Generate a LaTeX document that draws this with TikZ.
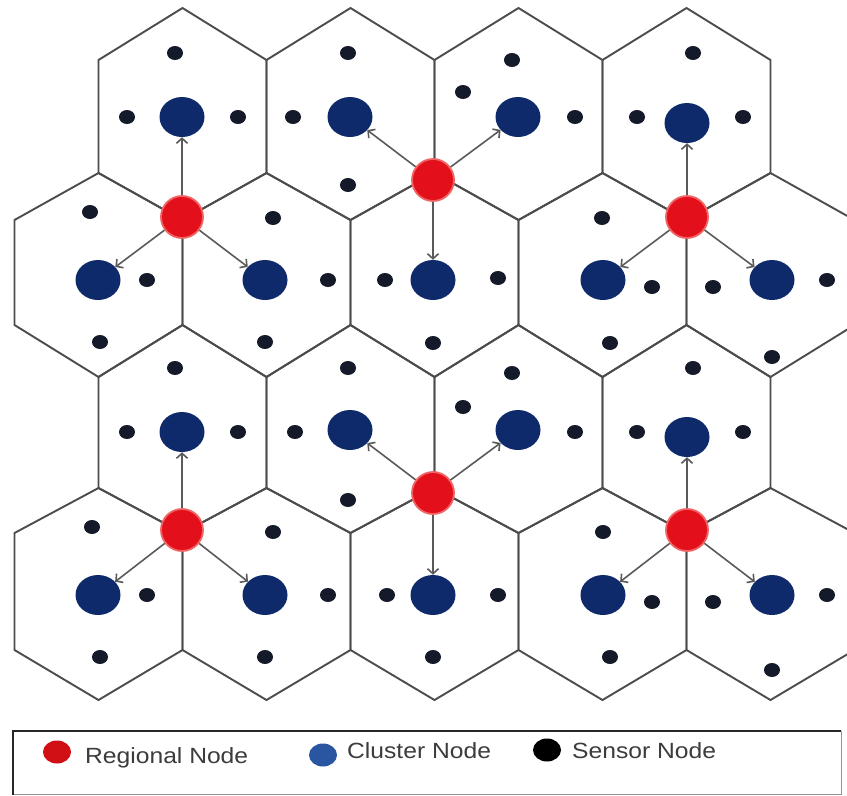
\documentclass[tikz,border=0pt]{standalone}
\usepackage{fontspec}
\setmainfont{Liberation Sans}
\usetikzlibrary{shapes.geometric,arrows.meta}
\definecolor{hexgray}{HTML}{4C4C4C}
\definecolor{navy}{HTML}{0E2A6A}
\definecolor{rednode}{HTML}{E3101C}
\definecolor{redhalo}{HTML}{F06464}
\definecolor{dotblack}{HTML}{151A2A}
\definecolor{arrgray}{HTML}{5A5A5A}
\definecolor{legred}{HTML}{D01015}
\definecolor{legblue}{HTML}{2A55A0}
\definecolor{legtext}{HTML}{3C3C3C}
\begin{document}
\begin{tikzpicture}[x=1pt,y=-1pt,
  hexline/.style={draw=hexgray, line width=1.9pt, line join=miter},
  cluster/.style={ellipse, fill=navy, minimum width=45pt, minimum height=40pt, inner sep=0pt},
  regional/.style={circle, fill=rednode, draw=redhalo, line width=1.8pt, minimum size=42pt, inner sep=0pt},
  sensor/.style={ellipse, fill=dotblack, minimum width=16pt, minimum height=14pt, inner sep=0pt},
  arr/.style={draw=arrgray, line width=1.6pt, -{Straight Barb[length=5pt,width=11pt]}},
  legdot/.style={ellipse, minimum width=28pt, minimum height=23pt, inner sep=0pt},
  legtxt/.style={anchor=base west, inner sep=0pt, text=legtext, font=\fontsize{22}{26}\selectfont}
]
\useasboundingbox (0,0) rectangle (847,796);
\fill[white] (0,0) rectangle (847,796);
\begin{scope}
\clip (0,0) rectangle (847,796);
% row 0
\foreach \cx in {182.5,350.5,518.5,686.5}
  \draw[hexline] (\cx,8) -- (\cx+84,60) -- (\cx+84,173) -- (\cx,220) -- (\cx-84,173) -- (\cx-84,60) -- cycle;
% row 1
\foreach \cx in {98.5,266.5,434.5,602.5,770.5}
  \draw[hexline] (\cx,173) -- (\cx+84,220) -- (\cx+84,325) -- (\cx,377) -- (\cx-84,325) -- (\cx-84,220) -- cycle;
% row 2
\foreach \cx in {182.5,350.5,518.5,686.5}
  \draw[hexline] (\cx,325) -- (\cx+84,377) -- (\cx+84,488) -- (\cx,533) -- (\cx-84,488) -- (\cx-84,377) -- cycle;
% row 3
\foreach \cx in {98.5,266.5,434.5,602.5,770.5}
  \draw[hexline] (\cx,488) -- (\cx+84,533) -- (\cx+84,650) -- (\cx,700) -- (\cx-84,650) -- (\cx-84,533) -- cycle;
\end{scope}

% sensor nodes
\foreach \x/\y [count=\i] in {
  175/53,127/117,238/117, 348/53,293/117,348/185, 512/60,463/92,575/117, 693/53,637/117,743/117,
  90/212,147/280,100/342, 273/218,328/280,265/342, 385/280,498/278,433/343, 602/218,652/287,610/343, 713/287,827/280,772/357,
  175/368,127/432,238/432, 348/368,295/432,348/500, 512/373,463/407,575/432, 693/368,637/432,743/432,
  92/527,147/595,100/657, 273/532,328/595,265/657, 387/595,498/595,433/657, 603/532,652/602,610/657, 713/602,827/595,772/670}
  \node[sensor] (s\i) at (\x,\y) {};

% cluster nodes
\node[cluster] (c01) at (182,117) {};
\node[cluster] (c02) at (350,117) {};
\node[cluster] (c03) at (518,117) {};
\node[cluster] (c04) at (687,123) {};
\node[cluster] (c11) at (98,280) {};
\node[cluster] (c12) at (265,280) {};
\node[cluster] (c13) at (433,280) {};
\node[cluster] (c14) at (603,280) {};
\node[cluster] (c15) at (772,280) {};
\node[cluster] (c21) at (182,432) {};
\node[cluster] (c22) at (350,430) {};
\node[cluster] (c23) at (518,430) {};
\node[cluster] (c24) at (687,437) {};
\node[cluster] (c31) at (98,595) {};
\node[cluster] (c32) at (265,595) {};
\node[cluster] (c33) at (433,595) {};
\node[cluster] (c34) at (603,595) {};
\node[cluster] (c35) at (772,595) {};

% regional nodes
\node[regional] (r1) at (182,217) {};
\node[regional] (r2) at (433,180) {};
\node[regional] (r3) at (687,217) {};
\node[regional] (r4) at (182,530) {};
\node[regional] (r5) at (433,493) {};
\node[regional] (r6) at (687,530) {};

% connectors
\draw[arr] (r1) -- (c01); \draw[arr] (r1) -- (c11); \draw[arr] (r1) -- (c12);
\draw[arr] (r2) -- (c02); \draw[arr] (r2) -- (c03); \draw[arr] (r2) -- (c13);
\draw[arr] (r3) -- (c04); \draw[arr] (r3) -- (c14); \draw[arr] (r3) -- (c15);
\draw[arr] (r4) -- (c21); \draw[arr] (r4) -- (c31); \draw[arr] (r4) -- (c32);
\draw[arr] (r5) -- (c22); \draw[arr] (r5) -- (c23); \draw[arr] (r5) -- (c33);
\draw[arr] (r6) -- (c24); \draw[arr] (r6) -- (c34); \draw[arr] (r6) -- (c35);

% legend
\draw[draw=hexgray!60, line width=0.8pt] (841,731) -- (841,794.5) -- (13,794.5);
\draw[draw=black!85, line width=1.8pt] (13,794.5) -- (13,731) -- (841,731);
\node[legdot, fill=legred] (lr) at (57,752) {};
\node[legtxt] (lrt) at (85,763) {\scalebox{1.12}[1]{Regional Node}};
\node[legdot, fill=legblue] (lb) at (323,755) {};
\node[legtxt] (lbt) at (347,758) {\scalebox{1.12}[1]{Cluster Node}};
\node[legdot, fill=black] (lk) at (547,750) {};
\node[legtxt] (lkt) at (572,758) {\scalebox{1.12}[1]{Sensor Node}};
\end{tikzpicture}
\end{document}
